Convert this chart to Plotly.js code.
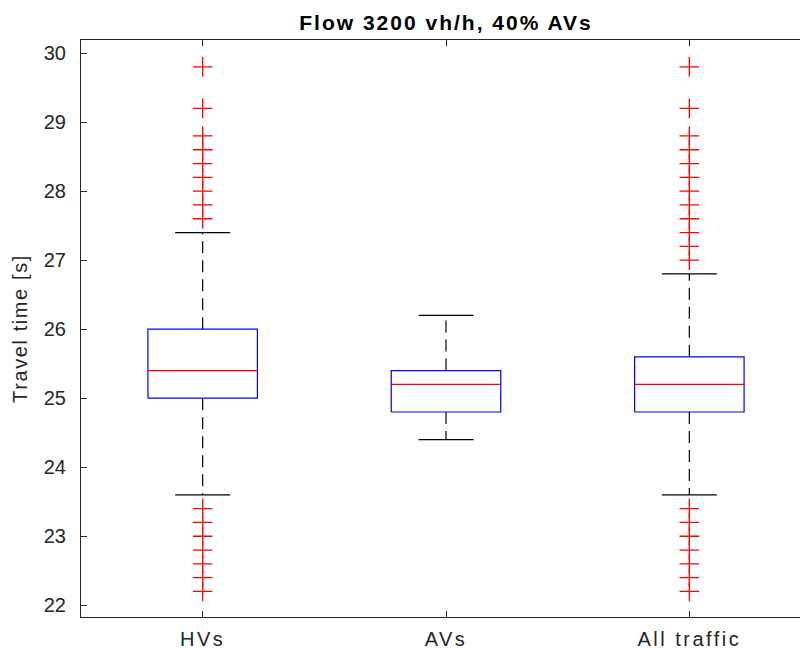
<!DOCTYPE html>
<html>
<head>
<meta charset="utf-8">
<script src="https://cdn.plot.ly/plotly-3.0.1.min.js"></script>
<style>
html, body { margin: 0; padding: 0; overflow: hidden; background: #fff; width: 800px; height: 652px; }
#chart { width: 812px; height: 652px; }
#chart .xtick text { letter-spacing: 2.5px; }
#chart .gtitle { letter-spacing: 2px; }
#chart .ytitle { letter-spacing: 1.6px; }
</style>
</head>
<body>
<div id="chart"></div>
<script>
// ---- data ----
var categories = ['HVs', 'AVs', 'All traffic'];
var q1 = [25.0, 24.8, 24.8];
var medians = [25.4, 25.2, 25.2];
var q3 = [26.0, 25.4, 25.6];
var lowerWhisker = [23.6, 24.4, 23.6];
var upperWhisker = [27.4, 26.2, 26.8];
var outliersHVs = [29.8, 29.2, 28.8, 28.6, 28.4, 28.2, 28.0, 27.8, 27.6,
                   23.4, 23.2, 23.0, 22.8, 22.6, 22.4, 22.2];
var outliersAVs = [];
var outliersAll = [29.8, 29.2, 28.8, 28.6, 28.4, 28.2, 28.0, 27.8, 27.6, 27.4, 27.2, 27.0,
                   23.4, 23.2, 23.0, 22.8, 22.6, 22.4, 22.2];
var outliers = [outliersHVs, outliersAVs, outliersAll];
var yTicks = [22, 23, 24, 25, 26, 27, 28, 29, 30];

// ---- build traces ----
var halfBox = 0.225, halfCap = 0.113;
var boxX = [], boxY = [], medX = [], medY = [], whX = [], whY = [], capX = [], capY = [], outX = [], outY = [];
for (var i = 0; i < categories.length; i++) {
  var c = i + 1;
  boxX.push(c - halfBox, c + halfBox, c + halfBox, c - halfBox, c - halfBox, null);
  boxY.push(q1[i], q1[i], q3[i], q3[i], q1[i], null);
  medX.push(c - halfBox, c + halfBox, null);
  medY.push(medians[i], medians[i], null);
  whX.push(c, c, null, c, c, null);
  whY.push(q3[i], upperWhisker[i], null, q1[i], lowerWhisker[i], null);
  capX.push(c - halfCap, c + halfCap, null, c - halfCap, c + halfCap, null);
  capY.push(upperWhisker[i], upperWhisker[i], null, lowerWhisker[i], lowerWhisker[i], null);
  for (var k = 0; k < outliers[i].length; k++) { outX.push(c); outY.push(outliers[i][k]); }
}

var traces = [
  {x: whX, y: whY, mode: 'lines', line: {color: '#000000', width: 1.2, dash: '12px,7px'}, hoverinfo: 'skip'},
  {x: capX, y: capY, mode: 'lines', line: {color: '#000000', width: 1.2}, hoverinfo: 'skip'},
  {x: boxX, y: boxY, mode: 'lines', line: {color: '#0000FF', width: 1.2}, hoverinfo: 'skip'},
  {x: medX, y: medY, mode: 'lines', line: {color: '#FF0000', width: 1.2}, hoverinfo: 'skip'},
  {x: outX, y: outY, mode: 'markers', marker: {symbol: 'cross-thin-open', size: 14, line: {color: '#FF0000', width: 1.3}, color: '#FF0000'}, hoverinfo: 'y'}
];
traces.forEach(function (t) { t.type = 'scatter'; t.showlegend = false; });

var fontFam = 'Liberation Sans, Arial, Helvetica, sans-serif';
var layout = {
  width: 812, height: 652,
  margin: {l: 81, r: 1, t: 40, b: 35, pad: 0},
  paper_bgcolor: '#ffffff', plot_bgcolor: '#ffffff',
  font: {family: fontFam, color: '#262626', size: 19},
  title: {text: '<b>Flow 3200 vh/h, 40% AVs</b>', x: 0.5, xref: 'paper', xanchor: 'center',
          y: 0.965, yref: 'container', yanchor: 'middle',
          font: {family: fontFam, size: 21, color: '#000000'}},
  xaxis: {
    range: [0.5, 3.5], tickvals: [1, 2, 3], ticktext: categories,
    ticks: 'inside', ticklen: 6, tickcolor: '#262626', tickwidth: 1,
    showline: true, linecolor: '#262626', linewidth: 1, mirror: 'ticks',
    showgrid: false, zeroline: false, tickfont: {size: 20, color: '#262626'},
    ticklabelstandoff: 4, fixedrange: true
  },
  yaxis: {
    range: [21.83, 30.19], tickvals: yTicks,
    ticks: 'inside', ticklen: 6, tickcolor: '#262626', tickwidth: 1,
    showline: true, linecolor: '#262626', linewidth: 1, mirror: 'ticks',
    showgrid: false, zeroline: false, tickfont: {size: 20, color: '#262626'},
    ticklabelstandoff: 10,
    title: {text: 'Travel time [s]', font: {size: 20, color: '#262626'}, standoff: 10}, fixedrange: true
  }
};
Plotly.newPlot('chart', traces, layout, {displayModeBar: false, staticPlot: true});
</script>
</body>
</html>
